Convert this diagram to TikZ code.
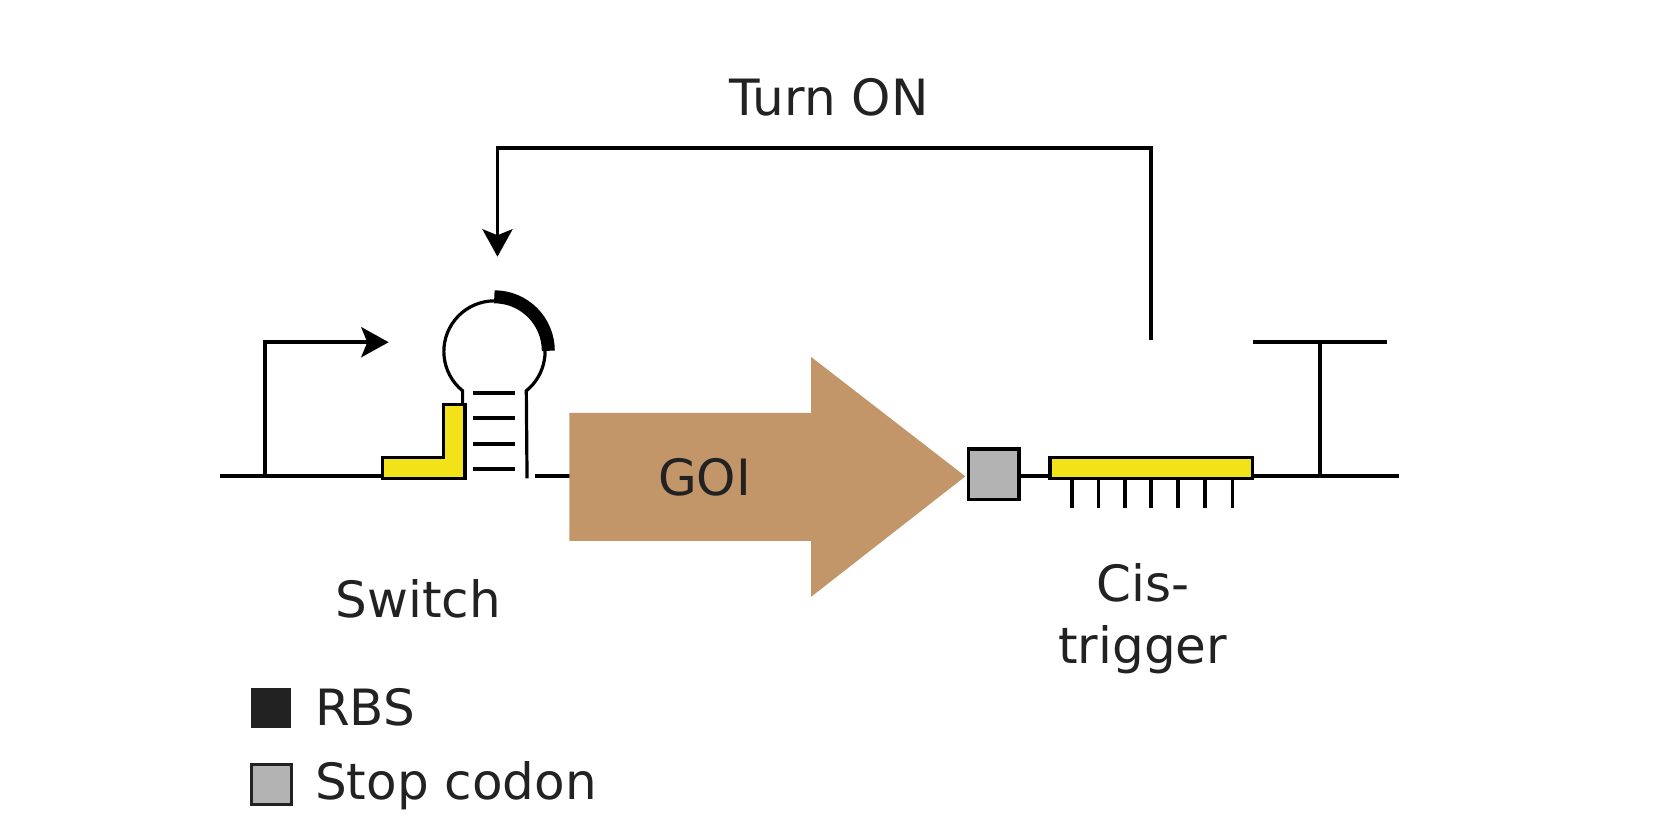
\documentclass[tikz,border=0pt]{standalone}
\usepackage{fontspec}
\setmainfont{DejaVu Sans}
\usetikzlibrary{arrows.meta}
\definecolor{goi}{HTML}{C29669}
\definecolor{yel}{HTML}{F2E21A}
\definecolor{stopc}{HTML}{B3B3B3}
\definecolor{txt}{HTML}{222222}
\begin{document}
\begin{tikzpicture}[x=0.528pt,y=-0.528pt,
  ln/.style={line width=1.9pt,black},
  arr/.style={ln,-{Stealth[length=13.7pt,width=15pt,inset=3pt]}},
  lbl/.style={text=txt,font=\fontsize{25}{31}\selectfont,inner sep=0},
  box/.style={draw=black,line width=1.8pt}]
\useasboundingbox (0,0) rectangle (1566,781);
% baseline pieces
\draw[ln] (208,451) -- (362,451);
\draw[ln] (507,451) -- (540,451);
\draw[ln] (965,451) -- (994,451);
\draw[ln] (1186,451) -- (1325,451);
% promoter
\coordinate (p0) at (251,451);
\coordinate (p1) at (368,324);
\draw[arr] (p0) |- (p1);
% hairpin
\draw[line width=1.6pt] (438,383) -- (438,370) arc[start angle=231,end angle=-51,radius=25.3pt] -- (499,453);
\draw[line width=6.5pt] (468,281) arc[start angle=90,end angle=0,radius=27pt];
\foreach \y in {372,396,420,444} \draw[ln] (448,\y) -- (488,\y);
\draw[box,fill=yel] (362,433) -- (420,433) -- (420,383) -- (440,383) -- (440,453) -- (362,453) -- cycle;
% GOI
\fill[goi] (539,391) -- (768,391) -- (768,338) -- (914,451) -- (768,565) -- (768,512) -- (539,512) -- cycle;
\node[lbl] (goi) at (667,452) {GOI};
% stop
\node[box,fill=stopc,minimum size=25.3pt,inner sep=0] (stop) at (941,449) {};
% cis-trigger
\draw[box,fill=yel] (994,433) rectangle (1186,453);
\foreach \x in {1015,1040,1065,1090,1115,1141,1167} \draw[ln] (\x,453) -- (\x,481);
% terminator
\draw[ln] (1250,451) -- (1250,324);
\draw[ln] (1186,324) -- (1313,324);
% feedback
\coordinate (f0) at (1090,322);
\coordinate (f1) at (471,243);
\draw[arr] (f0) -- (1090,140) -| (f1);
% labels
\node[lbl] (turn) at (785,92) {Turn ON};
\node[lbl] (sw) at (396,567) {Switch};
\node[lbl,align=center] (cis) at (1082,586) {Cis-\\trigger};
% legend
\node[fill=txt,minimum size=20pt,inner sep=0] (rbs) at (257,670) {};
\node[lbl,anchor=west] at (298,670) {RBS};
\node[draw=txt,line width=1.6pt,fill=stopc,minimum size=20pt,inner sep=0] (stp) at (257,743) {};
\node[lbl,anchor=west] at (298,744) {Stop codon};
\end{tikzpicture}
\end{document}
